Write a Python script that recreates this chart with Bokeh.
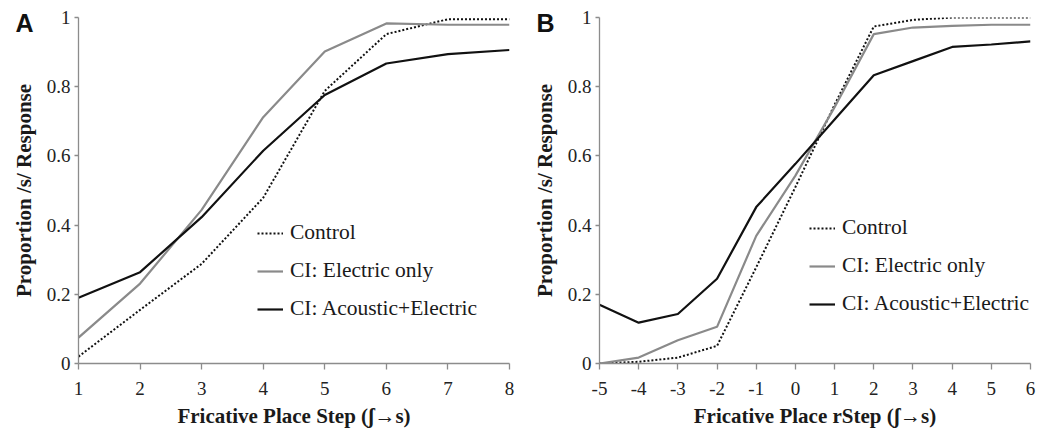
import math
from bokeh.plotting import figure
from bokeh.layouts import row
from bokeh.models import Range1d, FixedTicker, NumeralTickFormatter, Legend, LegendItem, Label
from bokeh.embed import file_html
from bokeh.resources import INLINE

# ---- data ----
steps_a = [1, 2, 3, 4, 5, 6, 7, 8]
control_a = [0.02, 0.155, 0.288, 0.479, 0.788, 0.952, 0.995, 0.995]
electric_a = [0.075, 0.231, 0.444, 0.712, 0.902, 0.983, 0.979, 0.979]
acoustic_a = [0.19, 0.264, 0.423, 0.615, 0.776, 0.867, 0.894, 0.906]

steps_b = [-5, -4, -3, -2, -1, 0, 1, 2, 3, 4, 5, 6]
control_b = [0.0, 0.005, 0.017, 0.051, 0.278, 0.51, 0.748, 0.974, 0.993, 1.0, 1.0, 1.0]
electric_b = [0.0, 0.017, 0.067, 0.106, 0.369, 0.543, 0.741, 0.952, 0.971, 0.976, 0.979, 0.979]
acoustic_b = [0.17, 0.118, 0.143, 0.245, 0.452, 0.577, 0.705, 0.833, 0.874, 0.915, 0.922, 0.931]

y_ticks = [0, 0.2, 0.4, 0.6, 0.8, 1.0]
series_names = ["Control", "CI: Electric only", "CI: Acoustic+Electric"]
x_label_a = "Fricative Place Step (\u0283\u2192s)"
x_label_b = "Fricative Place rStep (\u0283\u2192s)"
y_label = "Proportion /s/ Response"

SERIF = "Liberation Serif"
SANS = "Liberation Sans"
AXIS_COL = "#8c8c8c"
GRAY = "#8a8a8a"
BLACK = "#111111"
TEXT = "#1a1a1a"

FRAME_TOP, FRAME_BOTTOM = 17, 363


def make_panel(letter, xs, ctrl, elec, acou, xlabel, border_left, border_right, legend_loc):
    W = 522
    p = figure(width=W, height=437, output_backend="svg", toolbar_location=None,
               x_range=Range1d(xs[0], xs[-1]), y_range=Range1d(0, 1),
               min_border_left=border_left, min_border_right=border_right,
               min_border_top=FRAME_TOP, min_border_bottom=437 - FRAME_BOTTOM)
    p.outline_line_color = None
    p.grid.visible = False

    r1 = p.line(xs, ctrl, line_color=BLACK, line_width=2, line_dash="2 2")
    r2 = p.line(xs, elec, line_color=GRAY, line_width=2.2)
    r3 = p.line(xs, acou, line_color=BLACK, line_width=2.2)

    p.xaxis.ticker = FixedTicker(ticks=xs)
    p.xaxis.formatter = NumeralTickFormatter(format="0")
    p.yaxis.ticker = FixedTicker(ticks=y_ticks)
    p.yaxis.formatter = NumeralTickFormatter(format="0.[0]")
    for ax in (p.xaxis[0], p.yaxis[0]):
        ax.axis_line_color = AXIS_COL
        ax.axis_line_width = 1.3
        ax.major_tick_line_color = AXIS_COL
        ax.major_tick_line_width = 1.3
        ax.major_tick_in = 0
        ax.minor_tick_line_color = None
        ax.major_label_text_font = SERIF
        ax.major_label_text_font_size = "19px"
        ax.major_label_text_color = "#222222"
        ax.axis_label_text_font = SERIF
        ax.axis_label_text_font_style = "bold"
        ax.axis_label_text_font_size = "21px"
        ax.axis_label_text_color = TEXT
    p.xaxis.major_tick_out = 6
    p.xaxis.major_label_standoff = 12
    p.xaxis.axis_label = xlabel
    p.xaxis.axis_label_standoff = 6
    p.yaxis.major_tick_out = 4
    p.yaxis.major_label_standoff = 4

    legend = Legend(items=[LegendItem(label=series_names[0], renderers=[r1]),
                           LegendItem(label=series_names[1], renderers=[r2]),
                           LegendItem(label=series_names[2], renderers=[r3])],
                    location=legend_loc, orientation="vertical",
                    border_line_color=None, background_fill_alpha=0,
                    padding=0, margin=0, spacing=13,
                    glyph_width=26, glyph_height=22, label_height=22,
                    label_standoff=7,
                    label_text_font=SERIF, label_text_font_size="21.5px",
                    label_text_color=TEXT)
    p.add_layout(legend, "center")

    # side-panel labels (not clipped to the frame); placed in data units
    frame_w = W - border_left - border_right
    ppx = frame_w / (xs[-1] - xs[0])
    ppy = FRAME_BOTTOM - FRAME_TOP
    ylab = Label(x=xs[0] - 54.5 / ppx, y=0.5, text=y_label, angle=math.pi / 2,
                 text_align="center", text_baseline="middle",
                 text_font=SERIF, text_font_style="bold", text_font_size="21px",
                 text_color=TEXT)
    p.add_layout(ylab, "left")
    let = Label(x=xs[0] - 63.0 / ppx, y=(FRAME_BOTTOM - 22) / ppy, text=letter,
                text_align="left", text_baseline="alphabetic",
                text_font=SANS, text_font_style="bold", text_font_size="25px",
                text_color="#111111")
    p.add_layout(let, "left")
    return p


pa = make_panel("A", steps_a, control_a, electric_a, acoustic_a, x_label_a, 78, 13, (179, 42))
pb = make_panel("B", steps_b, control_b, electric_b, acoustic_b, x_label_b, 77, 14, (210, 47))

layout = row(pa, pb)
open("out.html", "w").write(file_html(layout, INLINE))
